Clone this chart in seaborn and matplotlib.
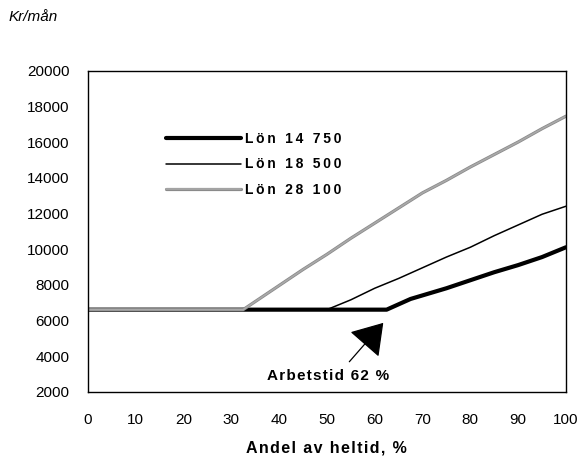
import matplotlib
matplotlib.use("Agg")
import matplotlib.pyplot as plt
import matplotlib.patheffects as pe
import seaborn as sns

# ---- data ----
x_low = [0, 62.5, 65, 67.5, 70, 75, 80, 85, 90, 95, 100]
y_low = [6600, 6600, 6900, 7200, 7400, 7800, 8250, 8700, 9100, 9550, 10100]

x_mid = [0, 50, 55, 60, 65, 70, 75, 80, 85, 90, 95, 100]
y_mid = [6600, 6600, 7150, 7800, 8350, 8950, 9550, 10100, 10750, 11350, 11950, 12400]

x_high = [0, 32.5, 35, 40, 45, 50, 55, 60, 65, 70, 75, 80, 85, 90, 95, 100]
y_high = [6600, 6600, 7050, 7950, 8850, 9700, 10600, 11450, 12300, 13150, 13850,
          14600, 15300, 16000, 16750, 17450]

labels = ["Lön 14 750", "Lön 18 500", "Lön 28 100"]
x_ticks = list(range(0, 101, 10))
y_ticks = list(range(2000, 20001, 2000))

FAM = ["Liberation Sans", "DejaVu Sans"]


def spaced(s, sp="\u200a"):
    return sp.join(s)


sns.set_style("white")
plt.rcParams["font.family"] = FAM
plt.rcParams["text.color"] = "black"
plt.rcParams["axes.labelcolor"] = "black"
plt.rcParams["xtick.color"] = "black"
plt.rcParams["ytick.color"] = "black"

fig = plt.figure(figsize=(5.82, 4.57), dpi=100)
ax = fig.add_axes([0.1507, 0.1429, 0.8218, 0.7024])

sns.lineplot(x=x_low, y=y_low, ax=ax, color="black", linewidth=3.0,
             label=spaced(labels[0], "\u2009"), sort=False)
sns.lineplot(x=x_mid, y=y_mid, ax=ax, color="black", linewidth=1.1,
             label=spaced(labels[1], "\u2009"), sort=False)
sns.lineplot(x=x_high, y=y_high, ax=ax, color="#a9a9a9", linewidth=1.2,
             label=spaced(labels[2], "\u2009"), sort=False,
             path_effects=[pe.Stroke(linewidth=2.3, foreground="#8a8a8a"), pe.Normal()])

ax.set_xlim(0, 100)
ax.set_ylim(2000, 20000)
ax.set_xticks(x_ticks)
ax.set_yticks(y_ticks)
ax.tick_params(axis="both", direction="inout", length=6, width=1, color="black",
               labelsize=11, labelcolor="black")
ax.tick_params(axis="x", pad=12)
ax.tick_params(axis="y", pad=10)
for s in ax.spines.values():
    s.set_visible(True)
    s.set_color("black")
    s.set_linewidth(1.0)

ax.set_xlabel(spaced("Andel av heltid, %"), fontsize=11.5, fontweight="bold",
              labelpad=10, color="black")
ax.set_ylabel("")

fig.text(0.014, 0.962, "Kr/mån", fontsize=11, fontstyle="italic", ha="left",
         va="center", color="black")

leg = ax.legend(loc="upper left", bbox_to_anchor=(166 / 582, 1 - 132 / 457),
                bbox_transform=fig.transFigure, frameon=False,
                handlelength=5.4, handletextpad=0.3, labelspacing=0.82,
                borderpad=0, borderaxespad=0,
                prop={"family": FAM, "weight": "bold", "size": 10})
for t in leg.get_texts():
    t.set_color("black")

ax.annotate("", xy=(61.8, 5860), xytext=(54.7, 3680),
            arrowprops=dict(arrowstyle="-|>,head_length=0.4,head_width=0.26",
                            mutation_scale=48, color="black", lw=0.9,
                            shrinkA=0, shrinkB=0))
ax.text(50.3, 2880, spaced("Arbetstid 62 %"), fontsize=11, fontweight="bold",
        ha="center", va="center", color="black")

fig.savefig("out.png", dpi=100)
